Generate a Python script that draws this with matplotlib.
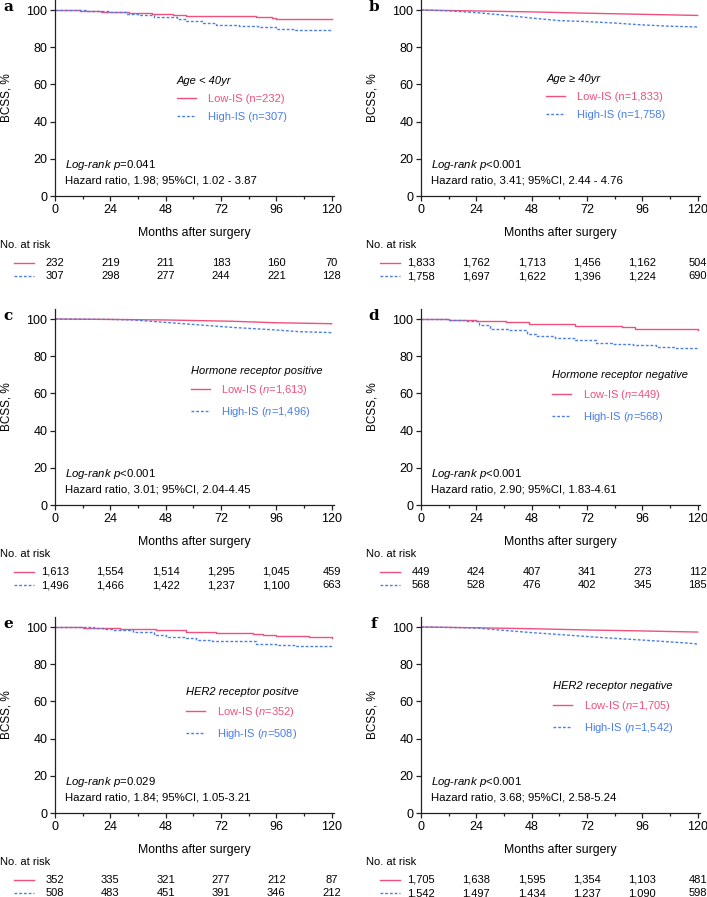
import matplotlib
matplotlib.use("Agg")
from matplotlib import pyplot as plt
from matplotlib.ticker import MultipleLocator

plt.rcParams["font.family"] = ["Liberation Sans", "DejaVu Sans"]
plt.rcParams["font.size"] = 8
plt.rcParams["mathtext.fontset"] = "custom"
plt.rcParams["mathtext.it"] = "Liberation Sans:italic"
plt.rcParams["mathtext.rm"] = "Liberation Sans"

LOW_COLOR = "#f2507c"
HIGH_COLOR = "#4a7ded"

# ---- data ----
panel_letters = ["a", "b", "c", "d", "e", "f"]
subgroups = ["Age < 40yr", "Age \u2265 40yr", "Hormone receptor positive",
             "Hormone receptor negative", "HER2 receptor positve",
             "HER2 receptor negative"]
low_labels = ["Low-IS (n=232)", "Low-IS (n=1,833)", "Low-IS ($n$=1,613)",
              "Low-IS ($n$=449)", "Low-IS ($n$=352)", "Low-IS ($n$=1,705)"]
high_labels = ["High-IS (n=307)", "High-IS (n=1,758)", "High-IS ($n$=1,496)",
               "High-IS ($n$=568)", "High-IS ($n$=508)", "High-IS ($n$=1,542)"]
logrank = [r"$Log$-$rank\ p$=0.041", r"$Log$-$rank\ p$<0.001",
           r"$Log$-$rank\ p$<0.001", r"$Log$-$rank\ p$<0.001",
           r"$Log$-$rank\ p$=0.029", r"$Log$-$rank\ p$<0.001"]
hazard = ["Hazard ratio, 1.98; 95%CI, 1.02 - 3.87",
          "Hazard ratio, 3.41; 95%CI, 2.44 - 4.76",
          "Hazard ratio, 3.01; 95%CI, 2.04-4.45",
          "Hazard ratio, 2.90; 95%CI, 1.83-4.61",
          "Hazard ratio, 1.84; 95%CI, 1.05-3.21",
          "Hazard ratio, 3.68; 95%CI, 2.58-5.24"]

risk_times = [0, 24, 48, 72, 96, 120]
risk_low = [["232", "219", "211", "183", "160", "70"],
            ["1,833", "1,762", "1,713", "1,456", "1,162", "504"],
            ["1,613", "1,554", "1,514", "1,295", "1,045", "459"],
            ["449", "424", "407", "341", "273", "112"],
            ["352", "335", "321", "277", "212", "87"],
            ["1,705", "1,638", "1,595", "1,354", "1,103", "481"]]
risk_high = [["307", "298", "277", "244", "221", "128"],
             ["1,758", "1,697", "1,622", "1,396", "1,224", "690"],
             ["1,496", "1,466", "1,422", "1,237", "1,100", "663"],
             ["568", "528", "476", "402", "345", "185"],
             ["508", "483", "451", "391", "346", "212"],
             ["1,542", "1,497", "1,434", "1,237", "1,090", "598"]]

# survival curves (months, BCSS %)
a_low_t = [0, 11, 20, 32, 42, 51, 57, 87, 94, 96, 120]
a_low_s = [100, 99.6, 99.1, 98.2, 97.8, 97.4, 96.8, 96.3, 95.6, 95.0, 95.0]
a_high_t = [0, 14, 24, 31, 36, 43, 53, 57, 64, 70, 80, 88, 96, 104, 120]
a_high_s = [100, 99.6, 99.1, 98.0, 97.1, 96.1, 95.4, 94.1, 92.9, 91.8, 91.4, 90.9, 89.8, 89.5, 89.5]

b_low_t = [0, 24, 48, 72, 96, 120]
b_low_s = [100, 99.5, 99.0, 98.3, 97.7, 97.1]
b_high_t = [0, 12, 24, 34, 48, 60, 72, 84, 96, 108, 120]
b_high_s = [100, 99.6, 98.6, 97.5, 95.7, 94.3, 93.8, 93.0, 92.0, 91.3, 90.9]

c_low_t = [0, 24, 48, 77, 96, 120]
c_low_s = [100, 99.8, 99.5, 98.8, 98.0, 97.5]
c_high_t = [0, 24, 34, 48, 63, 77, 96, 106, 120]
c_high_s = [100, 99.8, 99.5, 98.2, 96.8, 95.5, 94.1, 93.2, 92.7]

d_low_t = [0, 12, 24, 37, 47, 59, 67, 87, 93, 110, 120]
d_low_s = [100, 99.6, 99.1, 98.5, 97.6, 97.1, 96.4, 95.6, 94.9, 94.5, 94.2]
d_high_t = [0, 12, 20, 25, 30, 38, 46, 50, 58, 67, 76, 83, 92, 102, 110, 120]
d_high_s = [100, 99.5, 98.7, 96.9, 94.9, 94.0, 92.2, 90.7, 89.8, 88.5, 87.3, 86.7, 85.8, 84.9, 84.4, 84.0]

e_low_t = [0, 12, 20, 28, 44, 57, 70, 86, 90, 96, 110, 120]
e_low_s = [100, 99.7, 99.3, 98.8, 98.2, 97.3, 96.8, 96.4, 95.9, 95.2, 94.6, 94.1]
e_high_t = [0, 17, 21, 25, 34, 43, 48, 57, 61, 68, 87, 96, 104, 120]
e_high_s = [100, 99.6, 99.1, 98.2, 97.1, 95.9, 94.6, 94.1, 93.2, 92.3, 91.1, 90.5, 90.0, 90.0]

f_low_t = [0, 24, 48, 73, 96, 120]
f_low_s = [100, 99.6, 99.1, 98.4, 97.9, 97.3]
f_high_t = [0, 12, 24, 34, 48, 63, 79, 96, 113, 120]
f_high_s = [100, 99.8, 99.5, 98.4, 97.0, 95.7, 94.3, 93.0, 91.6, 90.9]

curves = [(a_low_t, a_low_s, a_high_t, a_high_s),
          (b_low_t, b_low_s, b_high_t, b_high_s),
          (c_low_t, c_low_s, c_high_t, c_high_s),
          (d_low_t, d_low_s, d_high_t, d_high_s),
          (e_low_t, e_low_s, e_high_t, e_high_s),
          (f_low_t, f_low_s, f_high_t, f_high_s)]
stepped = [True, False, False, True, True, False]

# legend anchor (upper-left, data coords) per panel
legend_pos = [(50.5, 67.5), (52, 68.5), (56.5, 78), (54.5, 75.5), (54.5, 70.5), (55, 74)]

# ---- figure ----
fig = plt.figure(figsize=(7.07, 8.97), dpi=100)
W, H = 707.0, 897.0
col_left = [55, 421]
row_bottom = [196, 505, 813]
ax_w, ax_h = 279, 196
dash = (0, (2.0, 1.4))

for i in range(6):
    r, c = divmod(i, 2)
    ax = fig.add_axes([col_left[c] / W, (H - row_bottom[r]) / H, ax_w / W, ax_h / H])
    lt, ls, ht, hs = curves[i]
    ds = "steps-post" if stepped[i] else "default"
    ax.plot(lt, ls, color=LOW_COLOR, lw=1.0, drawstyle=ds, label=low_labels[i])
    ax.plot(ht, hs, color=HIGH_COLOR, lw=1.0, ls=dash, drawstyle=ds,
            label=high_labels[i])

    ax.set_xlim(0, 121)
    ax.set_ylim(0, 105.4)
    ax.set_xticks(risk_times)
    ax.xaxis.set_minor_locator(MultipleLocator(12))
    ax.set_yticks([0, 20, 40, 60, 80, 100])
    for side in ["top", "right"]:
        ax.spines[side].set_visible(False)
    for side in ["left", "bottom"]:
        ax.spines[side].set_color("#222222")
        ax.spines[side].set_linewidth(0.9)
    ax.tick_params(which="major", length=3.5, width=0.9, color="#222222",
                   labelsize=9, pad=2)
    ax.tick_params(which="minor", length=2.2, width=0.9, color="#222222")
    ax.set_xlabel("Months after surgery", fontsize=8.8)
    ax.xaxis.set_label_coords(0.5, -0.158)
    ax.set_ylabel("BCSS, %", fontsize=8.5)
    ax.yaxis.set_label_coords(-0.152, 0.5)

    ax.text(-0.168, 0.965, panel_letters[i], transform=ax.transAxes,
            family="serif", fontweight="bold", fontsize=11, ha="center", va="center")

    leg = ax.legend(loc="upper left", bbox_to_anchor=legend_pos[i],
                    bbox_transform=ax.transData, frameon=False, fontsize=8,
                    title=subgroups[i], alignment="left", borderpad=0,
                    handlelength=1.7, handletextpad=1.05, labelspacing=0.7,
                    labelcolor="linecolor")
    leg.get_title().set_fontstyle("italic")
    leg.get_title().set_fontsize(8)

    ax.text(4.5, 16.8, logrank[i], fontsize=8.2, va="center")
    ax.text(4.5, 8.6, hazard[i], fontsize=8.2, va="center")

    # number at risk table
    ax.text(-24, -26.3, "No. at risk", fontsize=8, va="center", clip_on=False)
    ax.plot([-17.8, -9.1], [-35.8, -35.8], color=LOW_COLOR, lw=1.0, clip_on=False)
    ax.plot([-17.8, -9.1], [-43.2, -43.2], color=HIGH_COLOR, lw=1.0,
            ls=dash, clip_on=False)
    for t, nl, nh in zip(risk_times, risk_low[i], risk_high[i]):
        ax.text(t, -35.8, nl, fontsize=8, ha="center", va="center", clip_on=False)
        ax.text(t, -43.2, nh, fontsize=8, ha="center", va="center", clip_on=False)

fig.savefig("out.png", dpi=100)
